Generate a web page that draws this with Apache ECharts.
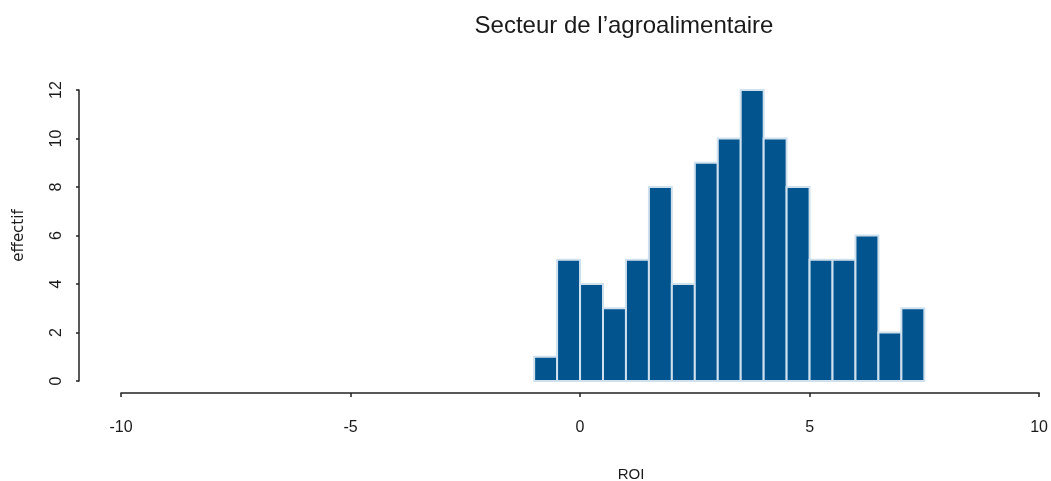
<!DOCTYPE html>
<html>
<head>
<meta charset="utf-8">
<script src="https://cdn.jsdelivr.net/npm/echarts@6/dist/echarts.min.js"></script>
<style>
  html, body { margin: 0; padding: 0; background: #fff; }
  #hist_chart { width: 1051px; height: 481px; }
</style>
</head>
<body>
<div id="hist_chart"></div>
<script>
// bornes des classes (ROI) et effectifs
var binEdges = [-1, -0.5, 0, 0.5, 1, 1.5, 2, 2.5, 3, 3.5, 4, 4.5, 5, 5.5, 6, 6.5, 7, 7.5]
var counts = [1, 5, 4, 3, 5, 8, 4, 9, 10, 12, 10, 8, 5, 5, 6, 2, 3]
var xTicks = [-10, -5, 0, 5, 10]
var yTicks = [0, 2, 4, 6, 8, 10, 12]

var chartTitle = 'Secteur de l’agroalimentaire'
var xName = 'ROI'
var yName = 'effectif'

var bins = []
for (var i = 0; i < counts.length; i++) {
  bins.push([binEdges[i], binEdges[i + 1], counts[i]])
}

var axisColor = '#222'
var textColor = '#1a1a1a'
var font = 'Liberation Sans, Arial, sans-serif'

var myChart = echarts.init(document.getElementById('hist_chart'))

var option = {
  animation: false,
  backgroundColor: '#fff',
  title: [
    {
      text: chartTitle,
      left: 619,
      top: 9,
      textAlign: 'center',
      textStyle: { fontFamily: font, fontSize: 24, fontWeight: 'normal', color: textColor }
    },
    {
      text: xName,
      left: 626,
      top: 462,
      textAlign: 'center',
      textStyle: { fontFamily: font, fontSize: 15, fontWeight: 'normal', color: textColor }
    }
  ],
  grid: {
    left: 121,
    right: 11,
    top: 90,
    bottom: 100
  },
  xAxis: {
    type: 'value',
    min: xTicks[0],
    max: xTicks[xTicks.length - 1],
    interval: 5,
    offset: 12,
    splitLine: { show: false },
    axisLine: { show: true, onZero: false, lineStyle: { color: axisColor, width: 1.5 } },
    axisTick: { show: true, length: 4, lineStyle: { color: axisColor, width: 1.5 } },
    axisLabel: {
      margin: 27,
      fontFamily: font,
      fontSize: 16,
      color: textColor,
      showMinLabel: true,
      showMaxLabel: true
    }
  },
  yAxis: {
    type: 'value',
    min: yTicks[0],
    max: yTicks[yTicks.length - 1],
    interval: 2,
    offset: 42,
    name: yName,
    nameLocation: 'middle',
    nameGap: 52,
    nameRotate: 90,
    nameTextStyle: { fontFamily: 'DejaVu Sans, sans-serif', fontSize: 15, color: textColor },
    splitLine: { show: false },
    axisLine: { show: true, onZero: false, lineStyle: { color: axisColor, width: 1.5 } },
    axisTick: { show: true, length: 3, lineStyle: { color: axisColor, width: 1.5 } },
    axisLabel: {
      rotate: 90,
      margin: 14,
      fontFamily: font,
      fontSize: 16,
      color: textColor
    }
  },
  series: [
    {
      type: 'custom',
      data: bins,
      encode: { x: [0, 1], y: 2 },
      renderItem: function (params, api) {
        var p0 = api.coord([api.value(0), 0])
        var p1 = api.coord([api.value(1), api.value(2)])
        return {
          type: 'rect',
          shape: {
            x: p0[0],
            y: p1[1],
            width: p1[0] - p0[0],
            height: p0[1] - p1[1]
          },
          style: {
            fill: '#02548f',
            stroke: '#cfe1ef',
            lineWidth: 2
          }
        }
      }
    }
  ]
}

myChart.setOption(option)
window.onresize = myChart.resize
</script>
</body>
</html>
